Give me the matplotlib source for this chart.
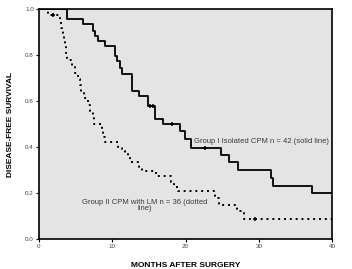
import numpy as np
import matplotlib.pyplot as plt

plt.rcParams['font.family'] = ['Liberation Sans', 'DejaVu Sans']

# Group I, isolated CPM (n = 42): event times (months) and survival after each drop
g1_times = [0, 3.8, 6.1, 7.4, 7.7, 8.1, 9.0, 10.4, 10.6, 11.1, 11.4, 12.7, 13.6,
            14.9, 15.8, 17.0, 19.25, 19.9, 20.8, 24.9, 25.9, 27.1, 31.6, 31.9, 37.2, 40]
g1_surv = [1.0, 0.954, 0.933, 0.903, 0.882, 0.86, 0.838, 0.795, 0.773, 0.744, 0.715,
           0.643, 0.621, 0.576, 0.523, 0.498, 0.469, 0.433, 0.397, 0.367, 0.337,
           0.302, 0.266, 0.233, 0.203, 0.203]
g1_cens_t = [15.2, 15.6, 18.2, 22.7]
g1_cens_s = [0.576, 0.576, 0.498, 0.397]

# Group II, CPM with LM (n = 36)
g2_times = [0, 1.3, 2.9, 3.1, 3.3, 3.4, 3.6, 3.7, 3.9, 4.5, 5.0, 5.3, 5.6, 5.8, 6.2,
            6.7, 7.0, 7.4, 7.6, 8.6, 8.8, 9.0, 10.8, 11.4, 11.8, 12.2, 12.4, 13.7,
            14.1, 16.0, 18.0, 18.5, 19.0, 24.0, 24.6, 27.0, 28.0, 40]
g2_surv = [1.0, 0.972, 0.944, 0.917, 0.889, 0.861, 0.833, 0.806, 0.778, 0.75, 0.722,
           0.694, 0.667, 0.639, 0.611, 0.583, 0.556, 0.528, 0.50, 0.472, 0.444, 0.42,
           0.398, 0.385, 0.372, 0.36, 0.337, 0.31, 0.295, 0.274, 0.25, 0.225, 0.208,
           0.18, 0.15, 0.122, 0.088, 0.088]
g2_cens_t = [1.95, 29.5]
g2_cens_s = [0.972, 0.088]

fig = plt.figure(figsize=(3.52, 2.69), dpi=100)
ax = fig.add_axes([0.110, 0.110, 0.834, 0.858])
ax.set_facecolor('#e4e4e4')

ax.step(g1_times, g1_surv, where='post', color='black', lw=1.3)
ax.plot(g1_cens_t, g1_cens_s, '+', color='black', ms=3, mew=1.1)
ax.step(g2_times, g2_surv, where='post', color='black', lw=1.4, linestyle=(0, (1, 2)))
ax.plot(g2_cens_t, g2_cens_s, '+', color='black', ms=3, mew=1.1)

ax.set_xlim(0, 40)
ax.set_ylim(0, 1.0)
ax.set_xticks([0, 10, 20, 30, 40])
ax.set_yticks([0.0, 0.2, 0.4, 0.6, 0.8, 1.0])
ax.set_yticklabels(['0.0', '0.2', '0.4', '0.6', '0.8', '1.0'])
ax.tick_params(labelsize=4.5, labelcolor='#444444', length=2, width=0.8, pad=1.5)
for s in ax.spines.values():
    s.set_linewidth(1.2)

ax.set_xlabel('MONTHS AFTER SURGERY', fontsize=6, fontweight='bold', labelpad=9)
ax.set_ylabel('DISEASE-FREE SURVIVAL', fontsize=6, fontweight='bold', labelpad=8)

ax.text(21.2, 0.424, 'Group I Isolated CPM n = 42 (solid line)', fontsize=5.5,
        color='#3a3a3a', ha='left', va='center')
ax.text(14.5, 0.148, 'Group II CPM with LM n = 36 (dotted\nline)', fontsize=5.5,
        color='#3a3a3a', ha='center', va='center', linespacing=0.9)

fig.savefig('out.png', dpi=100)
